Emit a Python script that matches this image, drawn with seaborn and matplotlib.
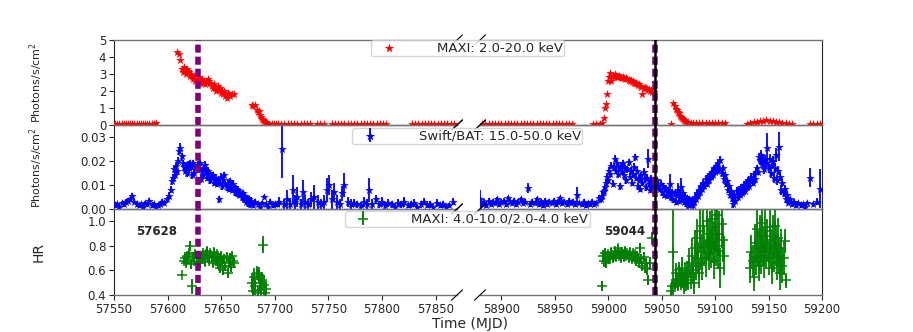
import matplotlib
matplotlib.use('Agg')
import matplotlib.pyplot as plt
from matplotlib.ticker import FormatStrFormatter
import seaborn as sns

sns.set_style('ticks')
plt.rcParams['font.family'] = ['DejaVu Sans']

# ---------------- data ----------------
# MAXI 2-20 keV, left segment
maxi_l_t = [57551, 57553, 57555, 57557, 57559, 57561, 57563, 57565, 57567, 57569,
            57571, 57573, 57575, 57577, 57579, 57581, 57583, 57585, 57587, 57589,
            57609, 57611, 57612, 57613, 57614, 57615, 57616, 57617, 57618, 57619,
            57620, 57621, 57622, 57623, 57624, 57625, 57626, 57627, 57628, 57629,
            57630, 57631, 57632, 57633, 57634, 57635, 57636, 57637, 57638, 57639,
            57640, 57641, 57642, 57643, 57644, 57645, 57646, 57647, 57648, 57649,
            57650, 57651, 57652, 57653, 57654, 57655, 57656, 57657, 57658, 57660,
            57662, 57679, 57680, 57682, 57683, 57684, 57685, 57686, 57687, 57688,
            57689, 57690, 57691, 57692, 57693, 57695, 57697, 57699, 57701, 57703,
            57706, 57709, 57712, 57715, 57718, 57721, 57724, 57727, 57730, 57733,
            57739, 57742, 57746, 57753, 57756, 57759, 57762, 57765, 57768, 57771,
            57774, 57777, 57780, 57783, 57786, 57789, 57792, 57795, 57798, 57801,
            57804, 57828, 57831, 57834, 57837, 57840, 57843, 57846, 57849, 57852,
            57855, 57858, 57861, 57864, 57867]
maxi_l_rate = [0.06, 0.05, 0.07, 0.04, 0.06, 0.08, 0.05, 0.06, 0.07, 0.05,
               0.06, 0.04, 0.07, 0.06, 0.05, 0.08, 0.06, 0.05, 0.07, 0.09,
               4.30, 4.20, 3.80, 3.30, 3.10, 3.40, 3.20, 3.00, 3.30, 3.20,
               3.10, 2.90, 3.00, 2.80, 2.70, 2.90, 2.60, 2.70, 2.60, 2.80,
               2.50, 2.60, 2.70, 2.50, 2.60, 2.40, 2.60, 2.50, 2.70, 2.60,
               2.50, 2.30, 2.20, 2.40, 2.20, 2.00, 2.10, 2.30, 2.10, 2.20,
               1.90, 2.00, 1.80, 2.00, 1.70, 1.60, 1.90, 1.80, 1.70, 1.80,
               1.85, 1.20, 1.10, 1.15, 0.90, 0.75, 0.80, 0.60, 0.45, 0.35,
               0.30, 0.25, 0.20, 0.15, 0.12, 0.08, 0.06, 0.05, 0.06, 0.05,
               0.07, 0.05, 0.06, 0.04, 0.06, 0.05, 0.07, 0.05, 0.06, 0.05,
               0.06, 0.05, 0.04, 0.06, 0.05, 0.07, 0.06, 0.05, 0.08, 0.06,
               0.05, 0.07, 0.06, 0.05, 0.06, 0.05, 0.07, 0.06, 0.05, 0.06,
               0.08, 0.06, 0.05, 0.07, 0.06, 0.05, 0.06, 0.04, 0.06, 0.05,
               0.07, 0.05, 0.04, 0.06, 0.05]

# MAXI 2-20 keV, right segment
maxi_r_t = [58882, 58885, 58888, 58891, 58894, 58897, 58900, 58903, 58906, 58909,
            58912, 58915, 58918, 58921, 58924, 58927, 58930, 58933, 58936, 58939,
            58942, 58945, 58948, 58951, 58954, 58957, 58960, 58963, 58966, 58986,
            58989, 58992, 58994, 58996, 58997, 58998, 58999, 59000, 59001, 59002,
            59003, 59004, 59005, 59006, 59007, 59008, 59009, 59010, 59011, 59012,
            59013, 59014, 59015, 59016, 59017, 59018, 59019, 59020, 59021, 59022,
            59023, 59024, 59025, 59026, 59027, 59028, 59029, 59030, 59031, 59032,
            59033, 59034, 59035, 59036, 59037, 59038, 59039, 59040, 59041, 59042,
            59043, 59059, 59061, 59062, 59063, 59064, 59065, 59066, 59067, 59068,
            59069, 59070, 59071, 59072, 59073, 59075, 59077, 59079, 59082, 59085,
            59088, 59091, 59094, 59097, 59100, 59103, 59106, 59109, 59130, 59133,
            59136, 59139, 59142, 59145, 59148, 59151, 59154, 59157, 59160, 59163,
            59166, 59169, 59172, 59189, 59192, 59195, 59198]
maxi_r_rate = [0.05, 0.06, 0.04, 0.05, 0.07, 0.05, 0.06, 0.04, 0.05, 0.06,
               0.05, 0.07, 0.05, 0.04, 0.06, 0.05, 0.06, 0.05, 0.07, 0.05,
               0.04, 0.06, 0.05, 0.06, 0.05, 0.07, 0.05, 0.06, 0.05, 0.06,
               0.05, 0.07, 0.10, 0.40, 1.00, 1.25, 1.85, 2.60, 2.85, 3.05,
               2.60, 2.90, 2.80, 3.00, 2.90, 2.80, 2.85, 2.90, 2.80, 2.85,
               2.75, 2.80, 2.75, 2.70, 2.75, 2.70, 2.65, 2.60, 2.65, 2.55,
               2.60, 2.50, 2.45, 2.50, 2.40, 2.35, 2.40, 2.30, 2.25, 1.85,
               2.20, 2.15, 2.20, 2.10, 2.05, 2.10, 2.00, 2.05, 1.95, 2.00,
               1.95, 0.05, 1.30, 1.10, 0.95, 0.90, 0.75, 0.70, 0.55, 0.50,
               0.40, 0.35, 0.30, 0.25, 0.20, 0.15, 0.12, 0.10, 0.10, 0.12,
               0.10, 0.11, 0.12, 0.10, 0.11, 0.12, 0.10, 0.11, 0.05, 0.10,
               0.15, 0.20, 0.22, 0.25, 0.28, 0.26, 0.24, 0.20, 0.15, 0.12,
               0.10, 0.08, 0.06, 0.05, 0.06, 0.05, 0.06]

# Swift/BAT 15-50 keV, left segment
bat_l_t = [57551, 57553, 57555, 57557, 57559, 57561, 57563, 57565, 57567, 57569,
           57571, 57573, 57575, 57577, 57579, 57581, 57583, 57585, 57587, 57589,
           57591, 57593, 57595, 57597, 57599, 57601, 57603, 57604, 57605, 57606,
           57607, 57608, 57609, 57610, 57611, 57612, 57613, 57614, 57615, 57616,
           57617, 57618, 57619, 57620, 57621, 57622, 57623, 57624, 57625, 57626,
           57627, 57628, 57629, 57630, 57631, 57632, 57633, 57634, 57635, 57636,
           57637, 57638, 57639, 57640, 57641, 57642, 57643, 57644, 57645, 57646,
           57647, 57648, 57649, 57650, 57651, 57652, 57653, 57654, 57655, 57656,
           57657, 57658, 57659, 57660, 57661, 57662, 57663, 57664, 57665, 57666,
           57667, 57668, 57669, 57670, 57671, 57672, 57673, 57674, 57675, 57676,
           57677, 57678, 57680, 57682, 57684, 57686, 57688, 57690, 57692, 57694,
           57696, 57698, 57700, 57702, 57704, 57707, 57709, 57711, 57714, 57717,
           57719, 57721, 57724, 57726, 57728, 57731, 57734, 57737, 57740, 57743,
           57746, 57749, 57751, 57753, 57755, 57758, 57761, 57763, 57765, 57768,
           57771, 57774, 57777, 57780, 57783, 57786, 57788, 57791, 57794, 57797,
           57800, 57803, 57806, 57809, 57812, 57815, 57818, 57821, 57824, 57827,
           57830, 57833, 57836, 57839, 57842, 57845, 57848, 57851, 57854, 57857,
           57860, 57863, 57866]
bat_l_rate = [0.0015, 0.002, 0.001, 0.0025, 0.002, 0.003, 0.0035, 0.004, 0.0055, 0.003,
              0.002, 0.0015, 0.002, 0.001, 0.0025, 0.002, 0.0035, 0.0015, 0.002, 0.001,
              0.0015, 0.002, 0.003, 0.0025, 0.004, 0.0055, 0.008, 0.0115, 0.013, 0.0165,
              0.014, 0.018, 0.016, 0.020, 0.024, 0.0255, 0.022, 0.019, 0.0175, 0.016,
              0.018, 0.015, 0.0185, 0.017, 0.019, 0.0175, 0.014, 0.019, 0.015, 0.018,
              0.0165, 0.0185, 0.017, 0.019, 0.0125, 0.016, 0.014, 0.017, 0.0185, 0.0155,
              0.013, 0.016, 0.015, 0.012, 0.0135, 0.014, 0.011, 0.013, 0.0125, 0.0105,
              0.012, 0.004, 0.011, 0.0135, 0.0095, 0.012, 0.014, 0.0105, 0.009, 0.011,
              0.0085, 0.0115, 0.0095, 0.008, 0.0105, 0.009, 0.007, 0.0085, 0.0065, 0.008,
              0.006, 0.007, 0.005, 0.0065, 0.004, 0.0055, 0.003, 0.0045, 0.0025, 0.004,
              0.002, 0.0035, 0.0015, 0.003, 0.002, 0.001, 0.0025, 0.005, 0.002, 0.001,
              0.003, 0.0015, 0.002, 0.002, 0.003, 0.025, 0.002, 0.004, 0.002, 0.008,
              0.003, 0.005, 0.002, 0.007, 0.003, 0.002, 0.004, 0.005, 0.003, 0.002,
              0.003, 0.008, 0.010, 0.004, 0.007, 0.003, 0.002, 0.0065, 0.010, 0.003,
              0.002, 0.0025, 0.002, 0.0015, 0.003, 0.002, 0.008, 0.002, 0.004, 0.002,
              0.003, 0.0015, 0.0025, 0.002, 0.001, 0.0025, 0.002, 0.003, 0.0015, 0.002,
              0.0025, 0.001, 0.002, 0.003, 0.0015, 0.002, 0.001, 0.0025, 0.0015, 0.002,
              0.001, 0.0015, 0.003]
bat_l_err = [0.001, 0.001, 0.001, 0.001, 0.001, 0.001, 0.001, 0.001, 0.001, 0.001,
             0.001, 0.001, 0.001, 0.001, 0.001, 0.001, 0.001, 0.001, 0.001, 0.001,
             0.001, 0.001, 0.001, 0.001, 0.001, 0.0015, 0.0015, 0.0015, 0.0015, 0.0015,
             0.0015, 0.0015, 0.0015, 0.0015, 0.0015, 0.002, 0.0015, 0.0015, 0.0015, 0.0015,
             0.0015, 0.0015, 0.0015, 0.0015, 0.0015, 0.0015, 0.0015, 0.0015, 0.0015, 0.0015,
             0.0015, 0.0015, 0.0015, 0.0015, 0.0015, 0.0015, 0.0015, 0.0015, 0.0015, 0.0015,
             0.0015, 0.0015, 0.0015, 0.0015, 0.0015, 0.0015, 0.0015, 0.0015, 0.0015, 0.0015,
             0.0015, 0.0015, 0.0015, 0.0015, 0.0015, 0.0015, 0.0015, 0.0015, 0.0015, 0.0015,
             0.0015, 0.0015, 0.0015, 0.0015, 0.0015, 0.0015, 0.0015, 0.0015, 0.0015, 0.0015,
             0.0015, 0.0015, 0.0015, 0.0015, 0.0015, 0.0015, 0.0015, 0.0015, 0.0015, 0.0015,
             0.0015, 0.0015, 0.001, 0.001, 0.001, 0.001, 0.001, 0.001, 0.001, 0.001,
             0.001, 0.001, 0.001, 0.001, 0.002, 0.012, 0.002, 0.004, 0.002, 0.006,
             0.003, 0.004, 0.002, 0.005, 0.003, 0.002, 0.003, 0.005, 0.003, 0.002,
             0.003, 0.005, 0.004, 0.004, 0.004, 0.003, 0.002, 0.003, 0.005, 0.002,
             0.002, 0.0015, 0.0015, 0.0015, 0.002, 0.002, 0.005, 0.002, 0.002, 0.0015,
             0.002, 0.0015, 0.0015, 0.0015, 0.001, 0.0015, 0.0015, 0.002, 0.001, 0.0015,
             0.0015, 0.001, 0.0015, 0.0015, 0.001, 0.0015, 0.001, 0.0015, 0.001, 0.0015,
             0.001, 0.001, 0.0015]

# Swift/BAT 15-50 keV, right segment
bat_r_t = [58880, 58882, 58884, 58886, 58888, 58890, 58892, 58894, 58896, 58898,
           58900, 58902, 58904, 58906, 58908, 58910, 58912, 58914, 58916, 58918,
           58920, 58922, 58925, 58927, 58929, 58931, 58933, 58935, 58937, 58939,
           58941, 58943, 58945, 58947, 58949, 58951, 58953, 58955, 58957, 58959,
           58961, 58963, 58965, 58967, 58969, 58971, 58973, 58975, 58977, 58979,
           58981, 58983, 58985, 58987, 58989, 58991, 58993, 58994, 58995, 58996,
           58997, 58998, 58999, 59000, 59001, 59002, 59003, 59004, 59005, 59006,
           59007, 59008, 59009, 59010, 59011, 59012, 59013, 59014, 59015, 59016,
           59017, 59018, 59019, 59020, 59021, 59022, 59023, 59024, 59025, 59026,
           59027, 59028, 59029, 59030, 59031, 59032, 59033, 59034, 59035, 59036,
           59037, 59038, 59039, 59040, 59041, 59042, 59043, 59044, 59045, 59046,
           59047, 59048, 59049, 59050, 59051, 59052, 59053, 59054, 59055, 59056,
           59057, 59058, 59059, 59060, 59061, 59062, 59063, 59064, 59065, 59066,
           59067, 59068, 59069, 59070, 59071, 59072, 59073, 59074, 59075, 59076,
           59077, 59078, 59079, 59080, 59081, 59082, 59083, 59084, 59085, 59086,
           59087, 59088, 59089, 59090, 59091, 59092, 59093, 59094, 59095, 59096,
           59097, 59098, 59099, 59100, 59101, 59102, 59103, 59104, 59105, 59106,
           59107, 59108, 59109, 59110, 59111, 59112, 59113, 59114, 59115, 59116,
           59117, 59118, 59119, 59120, 59121, 59122, 59123, 59124, 59125, 59126,
           59127, 59128, 59129, 59130, 59131, 59132, 59133, 59134, 59135, 59136,
           59137, 59138, 59139, 59140, 59141, 59142, 59143, 59144, 59145, 59146,
           59147, 59148, 59149, 59150, 59151, 59152, 59153, 59154, 59155, 59156,
           59157, 59158, 59159, 59160, 59161, 59162, 59163, 59164, 59165, 59166,
           59167, 59168, 59170, 59172, 59174, 59176, 59178, 59180, 59182, 59184,
           59186, 59189, 59192, 59195, 59198]
bat_r_rate = [0.004, 0.002, 0.003, 0.0015, 0.0035, 0.002, 0.003, 0.0025, 0.004, 0.002,
              0.003, 0.0035, 0.002, 0.0045, 0.003, 0.0025, 0.0035, 0.002, 0.003, 0.004,
              0.0025, 0.003, 0.0088, 0.002, 0.003, 0.0025, 0.004, 0.002, 0.003, 0.0015,
              0.0035, 0.002, 0.003, 0.0025, 0.0035, 0.002, 0.003, 0.0045, 0.0025, 0.003,
              0.002, 0.0035, 0.0025, 0.003, 0.002, 0.006, 0.0025, 0.002, 0.003, 0.0015,
              0.0025, 0.002, 0.003, 0.002, 0.0025, 0.0045, 0.004, 0.0055, 0.007, 0.0075,
              0.009, 0.011, 0.0135, 0.012, 0.016, 0.0145, 0.018, 0.0105, 0.0175, 0.021,
              0.016, 0.019, 0.0145, 0.017, 0.0095, 0.018, 0.0155, 0.019, 0.014, 0.017,
              0.012, 0.0165, 0.0195, 0.0135, 0.016, 0.011, 0.0145, 0.0175, 0.0215, 0.013,
              0.016, 0.0095, 0.0125, 0.0085, 0.014, 0.011, 0.0155, 0.0125, 0.009, 0.013,
              0.021, 0.0105, 0.008, 0.0125, 0.0095, 0.011, 0.008, 0.0105, 0.0095, 0.012,
              0.009, 0.0085, 0.0105, 0.007, 0.0095, 0.006, 0.0085, 0.008, 0.0055, 0.0075,
              0.0065, 0.0105, 0.005, 0.007, 0.004, 0.0065, 0.003, 0.006, 0.008, 0.0035,
              0.0055, 0.009, 0.004, 0.0065, 0.003, 0.005, 0.0025, 0.0045, 0.0015, 0.004,
              0.002, 0.0035, 0.0015, 0.003, 0.005, 0.004, 0.0065, 0.0055, 0.008, 0.007,
              0.0095, 0.0085, 0.011, 0.0095, 0.0125, 0.0105, 0.0135, 0.012, 0.0145, 0.0135,
              0.0155, 0.014, 0.017, 0.0155, 0.0175, 0.016, 0.019, 0.0165, 0.0205, 0.015,
              0.017, 0.0125, 0.014, 0.0105, 0.0115, 0.008, 0.0095, 0.006, 0.0075, 0.0045,
              0.002, 0.006, 0.0035, 0.0075, 0.005, 0.008, 0.006, 0.009, 0.0065, 0.0085,
              0.010, 0.0075, 0.0105, 0.009, 0.012, 0.0095, 0.0115, 0.0135, 0.011, 0.0145,
              0.0125, 0.0155, 0.017, 0.0155, 0.0215, 0.0205, 0.0225, 0.019, 0.021, 0.0165,
              0.0205, 0.019, 0.0255, 0.0175, 0.021, 0.015, 0.0185, 0.020, 0.013, 0.017,
              0.0225, 0.012, 0.016, 0.026, 0.0135, 0.008, 0.011, 0.0065, 0.0085, 0.004,
              0.006, 0.0025, 0.004, 0.002, 0.003, 0.0015, 0.0025, 0.0015, 0.002, 0.001,
              0.0025, 0.013, 0.002, 0.003, 0.0085]
bat_r_err = [0.004, 0.001, 0.001, 0.001, 0.001, 0.001, 0.001, 0.001, 0.001, 0.001,
             0.001, 0.001, 0.001, 0.001, 0.001, 0.001, 0.001, 0.001, 0.001, 0.001,
             0.001, 0.001, 0.002, 0.001, 0.001, 0.001, 0.001, 0.001, 0.001, 0.001,
             0.001, 0.001, 0.001, 0.001, 0.001, 0.001, 0.001, 0.001, 0.001, 0.001,
             0.001, 0.001, 0.001, 0.001, 0.001, 0.003, 0.001, 0.001, 0.001, 0.001,
             0.001, 0.001, 0.001, 0.001, 0.001, 0.0015, 0.0015, 0.0015, 0.0015, 0.0015,
             0.0015, 0.0015, 0.0015, 0.0015, 0.0015, 0.0015, 0.0015, 0.0015, 0.0015, 0.0015,
             0.0015, 0.0015, 0.0015, 0.0015, 0.0015, 0.0015, 0.0015, 0.0015, 0.0015, 0.0015,
             0.0015, 0.0015, 0.0015, 0.0015, 0.0015, 0.0015, 0.0015, 0.0015, 0.0015, 0.0015,
             0.0015, 0.0015, 0.0015, 0.0015, 0.0015, 0.0015, 0.0015, 0.0015, 0.0015, 0.0015,
             0.004, 0.0015, 0.0015, 0.0015, 0.0015, 0.0015, 0.0015, 0.0015, 0.0015, 0.0015,
             0.0015, 0.0015, 0.0015, 0.0015, 0.0015, 0.0015, 0.0015, 0.0015, 0.0015, 0.0015,
             0.0015, 0.004, 0.0015, 0.0015, 0.0015, 0.0015, 0.0015, 0.0015, 0.003, 0.0015,
             0.0015, 0.004, 0.0015, 0.0015, 0.0015, 0.0015, 0.0015, 0.0015, 0.0015, 0.0015,
             0.0015, 0.0015, 0.0015, 0.0015, 0.0015, 0.0015, 0.0015, 0.0015, 0.0015, 0.0015,
             0.0015, 0.0015, 0.0015, 0.0015, 0.0015, 0.0015, 0.0015, 0.0015, 0.0015, 0.0015,
             0.0015, 0.0015, 0.0015, 0.0015, 0.0015, 0.0015, 0.0015, 0.0015, 0.0015, 0.0015,
             0.0015, 0.0015, 0.0015, 0.0015, 0.0015, 0.0015, 0.0015, 0.0015, 0.0015, 0.0015,
             0.0015, 0.0015, 0.0015, 0.0015, 0.0015, 0.0015, 0.0015, 0.0015, 0.0015, 0.0015,
             0.0015, 0.0015, 0.0015, 0.0015, 0.0015, 0.0015, 0.0015, 0.0015, 0.0015, 0.0015,
             0.0015, 0.0015, 0.0015, 0.0015, 0.002, 0.002, 0.002, 0.002, 0.002, 0.002,
             0.002, 0.002, 0.006, 0.002, 0.002, 0.002, 0.002, 0.002, 0.002, 0.002,
             0.003, 0.002, 0.002, 0.006, 0.002, 0.002, 0.002, 0.0015, 0.0015, 0.0015,
             0.0015, 0.001, 0.001, 0.001, 0.001, 0.001, 0.001, 0.001, 0.001, 0.001,
             0.001, 0.004, 0.001, 0.0015, 0.008]

# MAXI hardness ratio (4-10 / 2-4 keV), left segment
hr_l_t = [57613, 57615, 57616, 57617, 57618, 57619, 57620, 57621, 57622, 57623,
          57624, 57625, 57626, 57627, 57629, 57630, 57631, 57632, 57633, 57634,
          57635, 57636, 57637, 57638, 57639, 57640, 57641, 57642, 57643, 57644,
          57645, 57646, 57647, 57648, 57649, 57650, 57651, 57652, 57653, 57654,
          57655, 57656, 57657, 57658, 57659, 57660, 57661, 57662,
          57679, 57680, 57681, 57682, 57683, 57684, 57685, 57686, 57687, 57688,
          57689, 57690, 57691, 57692]
hr_l = [0.565, 0.68, 0.70, 0.66, 0.72, 0.69, 0.74, 0.80, 0.65, 0.47,
        0.71, 0.68, 0.73, 0.67, 0.70, 0.66, 0.72, 0.69, 0.74, 0.70,
        0.67, 0.73, 0.76, 0.71, 0.68, 0.74, 0.70, 0.66, 0.75, 0.71,
        0.68, 0.73, 0.65, 0.70, 0.62, 0.72, 0.67, 0.60, 0.69, 0.64,
        0.71, 0.58, 0.66, 0.70, 0.63, 0.72, 0.68, 0.66,
        0.50, 0.43, 0.55, 0.47, 0.58, 0.42, 0.56, 0.50, 0.44, 0.52,
        0.81, 0.48, 0.42, 0.45]
hr_l_err = [0.01, 0.03, 0.03, 0.03, 0.03, 0.04, 0.03, 0.04, 0.04, 0.06,
            0.03, 0.03, 0.03, 0.03, 0.03, 0.03, 0.03, 0.03, 0.03, 0.03,
            0.03, 0.03, 0.03, 0.03, 0.03, 0.03, 0.03, 0.03, 0.03, 0.03,
            0.04, 0.03, 0.04, 0.03, 0.04, 0.03, 0.04, 0.04, 0.04, 0.04,
            0.03, 0.04, 0.04, 0.04, 0.04, 0.03, 0.04, 0.03,
            0.08, 0.06, 0.07, 0.08, 0.06, 0.05, 0.07, 0.08, 0.06, 0.07,
            0.07, 0.08, 0.05, 0.06]

# MAXI hardness ratio, right segment
hr_r_t = [58994, 58995, 58996, 58997, 58998, 58999, 59000, 59001, 59002, 59003,
          59004, 59005, 59006, 59007, 59008, 59009, 59010, 59011, 59012, 59013,
          59014, 59015, 59016, 59017, 59018, 59019, 59020, 59021, 59022, 59023,
          59024, 59025, 59026, 59027, 59028, 59029, 59030, 59031, 59032, 59033,
          59034, 59035, 59036, 59037, 59039, 59041,
          59059, 59060, 59061, 59062, 59063, 59064, 59065, 59066, 59067, 59068,
          59069, 59070, 59071, 59072, 59073, 59074, 59075, 59076, 59077, 59078,
          59079, 59080, 59081, 59082, 59083, 59084, 59085, 59086, 59087, 59088,
          59089, 59090, 59091, 59092, 59093, 59094, 59095, 59096, 59097, 59098,
          59099, 59100, 59101, 59102, 59103, 59104, 59105, 59106, 59107, 59108,
          59133, 59134, 59135, 59136, 59137, 59138, 59139, 59140, 59141, 59142,
          59143, 59144, 59145, 59146, 59147, 59148, 59149, 59150, 59151, 59152,
          59153, 59154, 59155, 59156, 59157, 59158, 59159, 59160, 59161, 59162,
          59163, 59164, 59165, 59166]
hr_r = [0.47, 0.72, 0.68, 0.74, 0.66, 0.70, 0.73, 0.69, 0.71, 0.75,
        0.70, 0.72, 0.76, 0.71, 0.73, 0.78, 0.72, 0.74, 0.70, 0.75,
        0.73, 0.71, 0.76, 0.72, 0.74, 0.70, 0.75, 0.72, 0.69, 0.74,
        0.71, 0.73, 0.68, 0.72, 0.70, 0.66, 0.78, 0.69, 0.64, 0.71,
        0.62, 0.66, 0.61, 0.52, 0.66, 0.86,
        0.43, 0.47, 0.75, 0.49, 0.58, 0.52, 0.48, 0.60, 0.55, 0.50,
        0.62, 0.53, 0.47, 0.58, 0.50, 0.58, 0.52, 0.66, 0.55, 0.72,
        0.60, 0.50, 0.78, 0.64, 0.86, 0.70, 0.58, 0.92, 0.75, 0.66,
        0.96, 0.80, 0.70, 1.00, 0.85, 0.74, 0.90, 0.78, 1.02, 0.83,
        0.68, 0.95, 0.80, 1.05, 0.76, 0.90, 0.62, 0.98, 0.85, 0.72,
        0.62, 0.75, 0.68, 0.55, 0.82, 0.70, 0.94, 0.78, 0.64, 0.88,
        0.72, 0.99, 0.80, 0.68, 0.92, 0.76, 0.85, 0.70, 0.95, 0.78,
        0.62, 0.88, 0.74, 0.96, 0.80, 0.66, 0.86, 0.72, 0.58, 0.78,
        0.64, 0.70, 0.84, 0.52]
hr_r_err = [0.04, 0.05, 0.05, 0.04, 0.04, 0.03, 0.03, 0.03, 0.03, 0.03,
            0.03, 0.03, 0.03, 0.03, 0.03, 0.03, 0.03, 0.03, 0.03, 0.03,
            0.03, 0.03, 0.03, 0.03, 0.03, 0.03, 0.03, 0.03, 0.03, 0.03,
            0.03, 0.03, 0.04, 0.04, 0.04, 0.04, 0.04, 0.04, 0.04, 0.04,
            0.04, 0.04, 0.05, 0.04, 0.05, 0.05,
            0.05, 0.06, 0.36, 0.05, 0.08, 0.06, 0.05, 0.07, 0.08, 0.06,
            0.09, 0.07, 0.06, 0.08, 0.07, 0.10, 0.08, 0.12, 0.10, 0.14,
            0.11, 0.09, 0.15, 0.12, 0.16, 0.13, 0.12, 0.18, 0.15, 0.14,
            0.18, 0.16, 0.15, 0.20, 0.17, 0.14, 0.18, 0.16, 0.20, 0.17,
            0.15, 0.19, 0.16, 0.22, 0.15, 0.18, 0.16, 0.20, 0.18, 0.16,
            0.12, 0.14, 0.13, 0.12, 0.16, 0.14, 0.18, 0.15, 0.13, 0.17,
            0.15, 0.20, 0.16, 0.14, 0.18, 0.15, 0.17, 0.14, 0.19, 0.16,
            0.13, 0.17, 0.15, 0.19, 0.16, 0.14, 0.17, 0.15, 0.14, 0.16,
            0.14, 0.14, 0.10, 0.06]

mark_l, mark_r = 57628, 59044
xlim_l, xlim_r = (57550, 57870), (58880, 59200)
labels = ['MAXI: 2.0-20.0 keV', 'Swift/BAT: 15.0-50.0 keV', 'MAXI: 4.0-10.0/2.0-4.0 keV']


def draw(ax, t, y, err, color, marker, size, lw):
    eb = None
    if err is not None:
        eb = ax.errorbar(t, y, yerr=err, fmt='none', ecolor=color,
                         elinewidth=1.3, capsize=0, zorder=2)
    sns.scatterplot(x=t, y=y, ax=ax, color=color, marker=marker, s=size,
                    linewidth=lw, zorder=3, legend=False)
    sc = ax.collections[-1]
    return (eb, sc) if eb is not None else sc


fig = plt.figure(figsize=(9.13, 3.32), dpi=100)
W, H = 913, 332
rows = [(40, 125), (125, 209), (209, 295)]
axes = []
for top, bot in rows:
    axl = fig.add_axes([114 / W, 1 - bot / H, 343 / W, (bot - top) / H])
    axr = fig.add_axes([480 / W, 1 - bot / H, 342 / W, (bot - top) / H])
    axes.append((axl, axr))

(a1l, a1r), (a2l, a2r), (a3l, a3r) = axes

h1 = draw(a1l, maxi_l_t, maxi_l_rate, None, 'red', '*', 42, 0)
draw(a1r, maxi_r_t, maxi_r_rate, None, 'red', '*', 42, 0)
h2 = draw(a2l, bat_l_t, bat_l_rate, bat_l_err, 'blue', '*', 42, 0)
draw(a2r, bat_r_t, bat_r_rate, bat_r_err, 'blue', '*', 42, 0)
h3 = draw(a3l, hr_l_t, hr_l, hr_l_err, 'green', '+', 50, 1.1)
draw(a3r, hr_r_t, hr_r, hr_r_err, 'green', '+', 50, 1.1)

ylims = [(0, 5), (0, 0.035), (0.4, 1.1)]
yticks = [[0, 1, 2, 3, 4, 5], [0, 0.01, 0.02, 0.03], [0.4, 0.6, 0.8, 1.0]]
yfmt = ['%d', '%.2f', '%.1f']
d_x, d_y = 0.016, 0.06
for i, (axl, axr) in enumerate(axes):
    for ax in (axl, axr):
        ax.set_facecolor('none')
        ax.set_ylim(ylims[i])
        ax.tick_params(labelsize=8.5, length=3.5, width=0.8, pad=2)
        for side in ('top', 'bottom'):
            ax.spines[side].set_color('0.45')
            ax.spines[side].set_linewidth(1.0)
    axl.set_xlim(xlim_l)
    axr.set_xlim(xlim_r)
    axl.set_yticks(yticks[i])
    axl.yaxis.set_major_formatter(FormatStrFormatter(yfmt[i]))
    axl.spines['right'].set_visible(False)
    axr.spines['left'].set_visible(False)
    axr.tick_params(left=False, labelleft=False)
    if i < 2:
        axl.tick_params(bottom=False, labelbottom=False)
        axr.tick_params(bottom=False, labelbottom=False)
    else:
        axl.set_xticks(range(57550, 57851, 50))
        axr.set_xticks(range(58900, 59201, 50))

    # marker lines
    axl.axvline(mark_l, color='purple', lw=4, ls=(0, (1.45, 0.72)), zorder=4)
    axr.axvline(mark_r, color='purple', lw=4, ls=(0, (1.45, 0.72)), zorder=4)
    axr.axvline(mark_r, color='black', lw=1.8, zorder=5)

    # broken axis slashes
    kw = dict(color='k', lw=0.8, clip_on=False, zorder=6)
    axl.plot((1 - d_x, 1 + d_x), (-d_y, d_y), transform=axl.transAxes, **kw)
    axl.plot((1 - d_x, 1 + d_x), (1 - d_y, 1 + d_y), transform=axl.transAxes, **kw)
    axr.plot((-d_x, d_x), (-d_y, d_y), transform=axr.transAxes, **kw)
    axr.plot((-d_x, d_x), (1 - d_y, 1 + d_y), transform=axr.transAxes, **kw)

a1l.set_ylabel('Photons/s/cm$^2$', fontsize=8)
a2l.set_ylabel('Photons/s/cm$^2$', fontsize=8)
a3l.set_ylabel('HR', fontsize=10)
for ax in (a1l, a2l, a3l):
    ax.yaxis.set_label_coords(-0.2, 0.5)

a3l.text(57590, 0.92, str(mark_l), ha='center', va='center', fontsize=8.5, fontweight='bold')
a3r.text(59015, 0.92, str(mark_r), ha='center', va='center', fontsize=8.5, fontweight='bold')

leg_y = [1 - 40 / H, 1 - 128 / H, 1 - 211 / H]
for h, lab, y in zip((h1, h2, h3), labels, leg_y):
    fig.legend(handles=[h], labels=[lab], loc='upper center',
               bbox_to_anchor=(0.512, y), fontsize=9.5, handlelength=2.5,
               handletextpad=2.4, borderpad=0.12, borderaxespad=0,
               markerscale=1.1)

fig.text(0.515, 0.024, 'Time (MJD)', ha='center', va='center', fontsize=10)

plt.savefig('out.png', dpi=100)
